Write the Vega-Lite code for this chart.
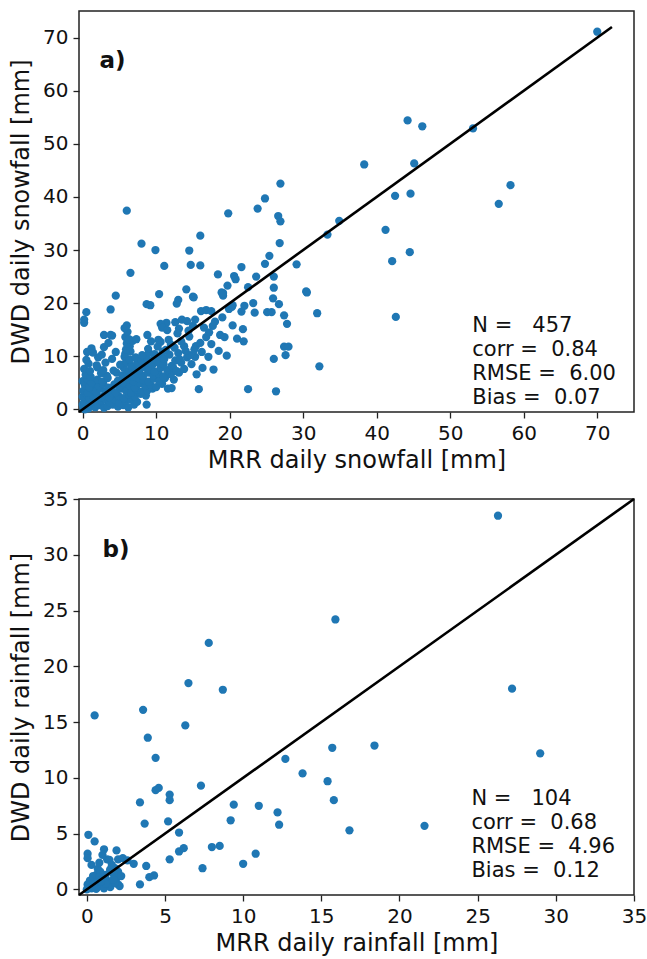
{
  "$schema": "https://vega.github.io/schema/vega-lite/v6.json",
  "padding": {"left": 8, "top": 10, "right": 8, "bottom": 4},
  "config": {
    "font": "DejaVu Sans",
    "view": {"stroke": "#222222", "strokeWidth": 1.5},
    "axis": {"grid": false, "domain": false, "tickColor": "#222222", "tickSize": 6, "tickWidth": 1.3, "labelFontSize": 20, "labelColor": "#111111", "titleFontSize": 24, "titleFontWeight": "normal", "titleColor": "#111111", "labelFont": "DejaVu Sans", "titleFont": "DejaVu Sans", "labelFlush": false, "labelOverlap": false, "labelPadding": 5},
    "axisX": {"titlePadding": 5},
    "axisY": {"titlePadding": 9},
    "concat": {"spacing": 15}
  },
  "datasets": {
    "snow": [
      {"mrr":70.0,"dwd":71.1},{"mrr":44.2,"dwd":54.4},{"mrr":46.2,"dwd":53.3},{"mrr":53.1,"dwd":52.9},{"mrr":38.3,"dwd":46.1},{"mrr":45.1,"dwd":46.3},{"mrr":58.2,"dwd":42.2},{"mrr":56.6,"dwd":38.7},{"mrr":42.5,"dwd":40.2},{"mrr":44.6,"dwd":40.6},
      {"mrr":26.9,"dwd":42.5},{"mrr":24.8,"dwd":39.7},{"mrr":19.8,"dwd":36.9},{"mrr":23.8,"dwd":37.8},{"mrr":26.6,"dwd":36.4},{"mrr":26.9,"dwd":35.4},{"mrr":34.9,"dwd":35.5},{"mrr":6.0,"dwd":37.4},{"mrr":41.2,"dwd":33.8},{"mrr":33.3,"dwd":32.9},
      {"mrr":16.0,"dwd":32.7},{"mrr":8.0,"dwd":31.2},{"mrr":26.8,"dwd":31.3},{"mrr":9.9,"dwd":30.0},{"mrr":14.5,"dwd":29.9},{"mrr":25.4,"dwd":28.9},{"mrr":44.5,"dwd":29.6},{"mrr":42.1,"dwd":27.9},{"mrr":11.1,"dwd":27.0},{"mrr":14.7,"dwd":27.2},
      {"mrr":16.0,"dwd":27.1},{"mrr":29.1,"dwd":27.3},{"mrr":24.8,"dwd":27.4},{"mrr":6.5,"dwd":25.7},{"mrr":18.4,"dwd":25.4},{"mrr":21.6,"dwd":26.8},{"mrr":20.6,"dwd":25.1},{"mrr":20.8,"dwd":24.5},{"mrr":23.6,"dwd":25.0},{"mrr":26.0,"dwd":25.0},
      {"mrr":22.5,"dwd":23.0},{"mrr":19.7,"dwd":23.3},{"mrr":26.0,"dwd":22.9},{"mrr":14.1,"dwd":22.6},{"mrr":30.4,"dwd":22.2},{"mrr":18.9,"dwd":22.0},{"mrr":19.1,"dwd":21.4},{"mrr":4.5,"dwd":21.4},{"mrr":10.4,"dwd":21.7},{"mrr":15.0,"dwd":21.2},
      {"mrr":25.9,"dwd":20.9},{"mrr":26.7,"dwd":19.8},{"mrr":13.0,"dwd":20.6},{"mrr":12.8,"dwd":19.9},{"mrr":8.7,"dwd":19.8},{"mrr":9.2,"dwd":19.6},{"mrr":20.4,"dwd":19.6},{"mrr":19.9,"dwd":18.9},{"mrr":3.8,"dwd":18.8},{"mrr":0.5,"dwd":18.3},
      {"mrr":0.2,"dwd":16.9},{"mrr":0.2,"dwd":16.3},{"mrr":21.6,"dwd":18.4},{"mrr":23.4,"dwd":18.2},{"mrr":25.1,"dwd":18.3},{"mrr":25.7,"dwd":18.3},{"mrr":31.9,"dwd":18.1},{"mrr":27.4,"dwd":17.7},{"mrr":42.6,"dwd":17.4},{"mrr":16.1,"dwd":18.5},
      {"mrr":16.8,"dwd":18.7},{"mrr":17.5,"dwd":18.5},{"mrr":27.8,"dwd":16.1},{"mrr":21.8,"dwd":15.1},{"mrr":21.0,"dwd":13.3},{"mrr":21.9,"dwd":12.8},{"mrr":12.6,"dwd":16.4},{"mrr":11.4,"dwd":16.3},{"mrr":10.6,"dwd":16.1},{"mrr":10.8,"dwd":15.4},
      {"mrr":13.5,"dwd":16.9},{"mrr":14.2,"dwd":16.6},{"mrr":15.0,"dwd":15.7},{"mrr":13.1,"dwd":15.2},{"mrr":17.7,"dwd":15.7},{"mrr":15.3,"dwd":16.9},{"mrr":16.5,"dwd":15.4},{"mrr":18.7,"dwd":14.0},{"mrr":14.5,"dwd":13.7},{"mrr":16.8,"dwd":13.6},
      {"mrr":15.4,"dwd":11.9},{"mrr":15.3,"dwd":9.9},{"mrr":17.1,"dwd":9.9},{"mrr":19.6,"dwd":10.1},{"mrr":18.5,"dwd":11.0},{"mrr":17.8,"dwd":7.5},{"mrr":16.3,"dwd":7.8},{"mrr":15.5,"dwd":6.6},{"mrr":15.8,"dwd":3.8},{"mrr":22.5,"dwd":3.8},
      {"mrr":26.3,"dwd":3.4},{"mrr":26.0,"dwd":9.5},{"mrr":27.6,"dwd":10.2},{"mrr":27.4,"dwd":11.8},{"mrr":28.0,"dwd":11.8},{"mrr":32.2,"dwd":8.1},{"mrr":15.1,"dwd":21.1},{"mrr":19.1,"dwd":21.9},{"mrr":20.3,"dwd":19.3},{"mrr":30.5,"dwd":22.0},
      {"mrr":0.1,"dwd":0.3},{"mrr":0.4,"dwd":0.7},{"mrr":0.8,"dwd":0.2},{"mrr":1.2,"dwd":0.9},{"mrr":1.7,"dwd":0.4},{"mrr":2.3,"dwd":0.8},{"mrr":2.9,"dwd":0.3},{"mrr":3.4,"dwd":0.6},{"mrr":4.1,"dwd":0.9},{"mrr":4.8,"dwd":0.5},
      {"mrr":5.5,"dwd":0.8},{"mrr":6.2,"dwd":0.4},{"mrr":7.0,"dwd":0.9},{"mrr":8.7,"dwd":0.9},{"mrr":0.0,"dwd":0.9},{"mrr":0.3,"dwd":0.0},
      {"mrr":0.2,"dwd":1.4},{"mrr":0.6,"dwd":1.9},{"mrr":1.0,"dwd":1.2},{"mrr":1.5,"dwd":1.7},{"mrr":2.0,"dwd":1.1},{"mrr":2.6,"dwd":1.6},{"mrr":3.1,"dwd":1.9},{"mrr":3.7,"dwd":1.3},{"mrr":4.4,"dwd":1.8},{"mrr":5.0,"dwd":1.2},{"mrr":5.8,"dwd":1.6},{"mrr":6.5,"dwd":1.9},{"mrr":7.4,"dwd":1.4},
      {"mrr":0.0,"dwd":2.4},{"mrr":0.5,"dwd":2.8},{"mrr":0.9,"dwd":2.1},{"mrr":1.4,"dwd":2.6},{"mrr":1.9,"dwd":2.9},{"mrr":2.5,"dwd":2.2},{"mrr":3.0,"dwd":2.7},{"mrr":3.6,"dwd":2.3},{"mrr":4.2,"dwd":2.9},{"mrr":4.9,"dwd":2.5},{"mrr":5.6,"dwd":2.1},{"mrr":6.3,"dwd":2.8},{"mrr":7.1,"dwd":2.4},{"mrr":7.9,"dwd":2.9},{"mrr":8.6,"dwd":2.6},
      {"mrr":0.1,"dwd":3.5},{"mrr":0.7,"dwd":3.1},{"mrr":1.3,"dwd":3.8},{"mrr":1.8,"dwd":3.3},{"mrr":2.4,"dwd":3.9},{"mrr":3.2,"dwd":3.4},{"mrr":3.9,"dwd":3.7},{"mrr":4.5,"dwd":3.2},{"mrr":5.2,"dwd":3.9},{"mrr":5.9,"dwd":3.5},{"mrr":6.6,"dwd":3.1},{"mrr":7.3,"dwd":3.8},{"mrr":8.0,"dwd":3.3},{"mrr":8.8,"dwd":3.6},{"mrr":9.5,"dwd":3.9},{"mrr":11.6,"dwd":3.9},{"mrr":12.1,"dwd":4.0},
      {"mrr":0.3,"dwd":4.6},{"mrr":0.9,"dwd":4.2},{"mrr":1.6,"dwd":4.9},{"mrr":2.2,"dwd":4.4},{"mrr":2.8,"dwd":4.8},{"mrr":3.5,"dwd":4.1},{"mrr":4.3,"dwd":4.7},{"mrr":5.0,"dwd":4.3},{"mrr":5.7,"dwd":4.8},{"mrr":6.4,"dwd":4.5},{"mrr":7.1,"dwd":4.1},{"mrr":7.8,"dwd":4.9},{"mrr":8.5,"dwd":4.4},{"mrr":9.2,"dwd":4.7},{"mrr":10.0,"dwd":4.2},{"mrr":10.8,"dwd":4.8},
      {"mrr":0.0,"dwd":5.3},{"mrr":0.6,"dwd":5.8},{"mrr":1.2,"dwd":5.1},{"mrr":2.0,"dwd":5.6},{"mrr":2.7,"dwd":5.2},{"mrr":3.4,"dwd":5.9},{"mrr":4.8,"dwd":5.4},{"mrr":5.5,"dwd":5.1},{"mrr":6.2,"dwd":5.7},{"mrr":6.9,"dwd":5.3},{"mrr":7.6,"dwd":5.9},{"mrr":8.3,"dwd":5.5},{"mrr":9.0,"dwd":5.2},{"mrr":9.7,"dwd":5.8},{"mrr":10.4,"dwd":5.4},{"mrr":11.2,"dwd":5.9},{"mrr":12.4,"dwd":5.6},
      {"mrr":0.4,"dwd":6.5},{"mrr":1.1,"dwd":6.1},{"mrr":2.5,"dwd":6.8},{"mrr":3.3,"dwd":6.3},{"mrr":4.6,"dwd":6.9},{"mrr":5.4,"dwd":6.4},{"mrr":6.1,"dwd":6.8},{"mrr":6.8,"dwd":6.2},{"mrr":7.5,"dwd":6.7},{"mrr":8.2,"dwd":6.3},{"mrr":8.9,"dwd":6.9},{"mrr":9.6,"dwd":6.4},{"mrr":10.3,"dwd":6.8},{"mrr":11.0,"dwd":6.2},{"mrr":12.0,"dwd":6.6},{"mrr":13.1,"dwd":6.9},
      {"mrr":0.2,"dwd":7.6},{"mrr":1.0,"dwd":7.2},{"mrr":2.0,"dwd":7.9},{"mrr":2.8,"dwd":7.4},{"mrr":4.2,"dwd":7.3},{"mrr":5.6,"dwd":7.8},{"mrr":6.3,"dwd":7.1},{"mrr":7.0,"dwd":7.7},{"mrr":7.7,"dwd":7.3},{"mrr":8.4,"dwd":7.9},{"mrr":9.1,"dwd":7.5},{"mrr":9.8,"dwd":7.1},{"mrr":10.6,"dwd":7.8},{"mrr":11.5,"dwd":7.4},{"mrr":12.3,"dwd":7.9},{"mrr":13.8,"dwd":7.6},
      {"mrr":0.8,"dwd":8.6},{"mrr":1.9,"dwd":8.3},{"mrr":3.1,"dwd":8.8},{"mrr":5.1,"dwd":8.4},{"mrr":5.9,"dwd":8.9},{"mrr":6.6,"dwd":8.2},{"mrr":7.4,"dwd":8.7},{"mrr":8.1,"dwd":8.3},{"mrr":8.8,"dwd":8.8},{"mrr":9.5,"dwd":8.4},{"mrr":10.2,"dwd":8.9},{"mrr":11.0,"dwd":8.5},{"mrr":12.1,"dwd":8.2},{"mrr":13.4,"dwd":8.8},
      {"mrr":0.5,"dwd":9.3},{"mrr":2.1,"dwd":9.8},{"mrr":4.0,"dwd":9.5},{"mrr":5.7,"dwd":9.9},{"mrr":6.4,"dwd":9.4},{"mrr":7.2,"dwd":9.8},{"mrr":8.0,"dwd":9.2},{"mrr":8.7,"dwd":9.7},{"mrr":9.5,"dwd":9.3},{"mrr":10.3,"dwd":9.9},{"mrr":11.1,"dwd":9.5},{"mrr":12.6,"dwd":9.2},{"mrr":14.2,"dwd":9.8},
      {"mrr":0.6,"dwd":10.8},{"mrr":1.4,"dwd":10.7},{"mrr":2.6,"dwd":10.3},{"mrr":5.8,"dwd":10.5},{"mrr":6.5,"dwd":10.9},{"mrr":8.1,"dwd":10.2},{"mrr":9.0,"dwd":10.7},{"mrr":9.8,"dwd":10.4},{"mrr":10.9,"dwd":10.8},{"mrr":11.8,"dwd":10.3},{"mrr":13.0,"dwd":10.6},{"mrr":14.6,"dwd":10.2},
      {"mrr":1.2,"dwd":11.5},{"mrr":2.9,"dwd":11.7},{"mrr":5.9,"dwd":11.3},{"mrr":6.4,"dwd":11.9},{"mrr":8.9,"dwd":11.4},{"mrr":10.2,"dwd":11.8},{"mrr":11.3,"dwd":11.2},{"mrr":12.5,"dwd":11.6},{"mrr":13.8,"dwd":11.9},{"mrr":15.2,"dwd":11.3},
      {"mrr":6.0,"dwd":12.4},{"mrr":6.8,"dwd":12.9},{"mrr":10.6,"dwd":12.7},{"mrr":12.0,"dwd":12.2},{"mrr":13.4,"dwd":12.8},
      {"mrr":2.9,"dwd":14.0},{"mrr":4.0,"dwd":13.9},{"mrr":5.8,"dwd":13.6},{"mrr":6.3,"dwd":13.2},{"mrr":8.8,"dwd":14.0},{"mrr":10.3,"dwd":13.1},{"mrr":11.7,"dwd":13.1},{"mrr":3.8,"dwd":14.0},
      {"mrr":6.1,"dwd":14.6},{"mrr":12.9,"dwd":14.3},{"mrr":14.4,"dwd":14.8},{"mrr":5.7,"dwd":15.3},{"mrr":6.0,"dwd":15.8},{"mrr":11.5,"dwd":14.9},
      {"mrr":16.0,"dwd":12.5},{"mrr":17.2,"dwd":14.5},{"mrr":18.0,"dwd":16.5},{"mrr":19.0,"dwd":17.3},{"mrr":14.0,"dwd":11.0},{"mrr":13.2,"dwd":9.4},{"mrr":12.8,"dwd":7.2},{"mrr":14.8,"dwd":8.5},{"mrr":16.2,"dwd":10.8},{"mrr":17.5,"dwd":12.3},
      {"mrr":19.3,"dwd":13.6},{"mrr":20.4,"dwd":15.8},{"mrr":22.0,"dwd":19.5},{"mrr":23.2,"dwd":20.0},{"mrr":9.3,"dwd":12.8},{"mrr":7.3,"dwd":13.2},{"mrr":4.5,"dwd":10.8},{"mrr":3.5,"dwd":12.5}
    ],
    "rain": [
      {"mrr":26.3,"dwd":33.5},{"mrr":15.9,"dwd":24.2},{"mrr":7.8,"dwd":22.1},{"mrr":6.5,"dwd":18.5},{"mrr":8.7,"dwd":17.9},{"mrr":27.2,"dwd":18.0},{"mrr":0.5,"dwd":15.6},{"mrr":3.6,"dwd":16.1},{"mrr":6.3,"dwd":14.7},{"mrr":3.9,"dwd":13.6},
      {"mrr":15.7,"dwd":12.7},{"mrr":18.4,"dwd":12.9},{"mrr":29.0,"dwd":12.2},{"mrr":4.4,"dwd":11.8},{"mrr":12.7,"dwd":11.7},{"mrr":13.8,"dwd":10.4},{"mrr":15.4,"dwd":9.7},{"mrr":7.3,"dwd":9.3},{"mrr":4.6,"dwd":9.1},{"mrr":4.4,"dwd":8.9},
      {"mrr":5.3,"dwd":8.5},{"mrr":5.3,"dwd":8.0},{"mrr":3.4,"dwd":7.8},{"mrr":15.8,"dwd":8.0},{"mrr":9.4,"dwd":7.6},{"mrr":11.0,"dwd":7.5},{"mrr":12.2,"dwd":6.9},{"mrr":5.2,"dwd":6.1},{"mrr":9.2,"dwd":6.2},{"mrr":3.7,"dwd":5.9},
      {"mrr":12.3,"dwd":5.8},{"mrr":21.6,"dwd":5.7},{"mrr":16.8,"dwd":5.3},{"mrr":5.9,"dwd":5.1},{"mrr":0.1,"dwd":4.9},{"mrr":0.5,"dwd":4.3},{"mrr":1.1,"dwd":3.6},{"mrr":1.9,"dwd":3.5},{"mrr":8.0,"dwd":3.8},{"mrr":8.5,"dwd":3.9},
      {"mrr":5.9,"dwd":3.4},{"mrr":6.2,"dwd":3.7},{"mrr":10.8,"dwd":3.2},{"mrr":0.05,"dwd":3.2},{"mrr":0.05,"dwd":2.8},{"mrr":1.3,"dwd":2.7},{"mrr":2.0,"dwd":2.7},{"mrr":2.3,"dwd":2.8},{"mrr":5.3,"dwd":2.7},{"mrr":3.0,"dwd":2.3},
      {"mrr":10.0,"dwd":2.3},{"mrr":3.8,"dwd":2.1},{"mrr":7.4,"dwd":1.9},{"mrr":0.7,"dwd":1.85},{"mrr":1.5,"dwd":1.8},{"mrr":1.8,"dwd":1.9},{"mrr":0.6,"dwd":1.3},{"mrr":4.3,"dwd":1.25},{"mrr":4.0,"dwd":1.1},{"mrr":3.4,"dwd":0.45},
      {"mrr":0.05,"dwd":0.45},{"mrr":2.0,"dwd":0.45},{"mrr":2.6,"dwd":2.6},{"mrr":1.45,"dwd":2.65},{"mrr":0.86,"dwd":1.6},{"mrr":1.5,"dwd":1.7},{"mrr":2.0,"dwd":1.6},{"mrr":1.7,"dwd":1.4},{"mrr":0.4,"dwd":1.2},{"mrr":0.8,"dwd":1.1},
      {"mrr":1.2,"dwd":1.3},{"mrr":0.1,"dwd":0.3},{"mrr":0.5,"dwd":0.6},{"mrr":0.9,"dwd":0.4},{"mrr":1.3,"dwd":0.8},{"mrr":1.6,"dwd":0.5},{"mrr":1.9,"dwd":1.0},{"mrr":2.1,"dwd":0.3},{"mrr":0.3,"dwd":0.1},{"mrr":0.7,"dwd":0.2},
      {"mrr":1.1,"dwd":0.1},{"mrr":1.5,"dwd":0.2},{"mrr":0.2,"dwd":0.8},{"mrr":1.0,"dwd":0.9},{"mrr":1.8,"dwd":0.6},{"mrr":0.0,"dwd":0.0},{"mrr":0.4,"dwd":0.4},{"mrr":1.2,"dwd":0.5},{"mrr":1.7,"dwd":0.9},{"mrr":0.6,"dwd":0.05},
      {"mrr":2.2,"dwd":1.2},{"mrr":0.9,"dwd":0.7},{"mrr":0.3,"dwd":2.2},{"mrr":0.8,"dwd":2.4},{"mrr":1.0,"dwd":3.1},{"mrr":1.6,"dwd":2.2}
    ],
    "line_a": [{"mrr": -0.5, "dwd": -0.5}, {"mrr": 72, "dwd": 72}],
    "line_b": [{"mrr": -0.5, "dwd": -0.5}, {"mrr": 35, "dwd": 35}],
    "text_a": [{"label": "a)", "stats": ["N =\u00a0\u00a0\u00a0457", "corr =\u00a0\u00a00.84", "RMSE =\u00a0\u00a06.00", "Bias =\u00a0\u00a00.07"]}],
    "text_b": [{"label": "b)", "stats": ["N =\u00a0\u00a0\u00a0104", "corr =\u00a0\u00a00.68", "RMSE =\u00a0\u00a04.96", "Bias =\u00a0\u00a00.12"]}]
  },
  "vconcat": [
    {
      "width": 555,
      "height": 401,
      "encoding": {
        "x": {"type": "quantitative", "scale": {"domain": [-0.5, 75], "nice": false, "zero": false}, "axis": {"values": [0, 10, 20, 30, 40, 50, 60, 70], "title": "MRR daily snowfall [mm]"}},
        "y": {"type": "quantitative", "scale": {"domain": [-0.5, 75], "nice": false, "zero": false}, "axis": {"values": [0, 10, 20, 30, 40, 50, 60, 70], "title": "DWD daily snowfall [mm]"}}
      },
      "layer": [
        {"data": {"name": "snow"}, "mark": {"type": "circle", "size": 68, "color": "#1f77b4", "opacity": 1}, "encoding": {"x": {"field": "mrr", "type": "quantitative"}, "y": {"field": "dwd", "type": "quantitative"}}},
        {"data": {"name": "line_a"}, "mark": {"type": "line", "color": "#000000", "strokeWidth": 2.6}, "encoding": {"x": {"field": "mrr", "type": "quantitative"}, "y": {"field": "dwd", "type": "quantitative"}}},
        {"data": {"name": "text_a"}, "mark": {"type": "text", "align": "left", "baseline": "alphabetic", "fontSize": 23, "fontWeight": "bold", "color": "#111111"}, "encoding": {"x": {"datum": 2.3}, "y": {"datum": 64.2}, "text": {"field": "label"}}},
        {"data": {"name": "text_a"}, "mark": {"type": "text", "align": "left", "baseline": "alphabetic", "fontSize": 21, "lineHeight": 24, "color": "#111111"}, "encoding": {"x": {"datum": 53.0}, "y": {"datum": 14.5}, "text": {"field": "stats"}}}
      ]
    },
    {
      "width": 555,
      "height": 396,
      "encoding": {
        "x": {"type": "quantitative", "scale": {"domain": [-0.5, 35], "nice": false, "zero": false}, "axis": {"values": [0, 5, 10, 15, 20, 25, 30, 35], "title": "MRR daily rainfall [mm]"}},
        "y": {"type": "quantitative", "scale": {"domain": [-0.5, 35], "nice": false, "zero": false}, "axis": {"values": [0, 5, 10, 15, 20, 25, 30, 35], "title": "DWD daily rainfall [mm]"}}
      },
      "layer": [
        {"data": {"name": "rain"}, "mark": {"type": "circle", "size": 68, "color": "#1f77b4", "opacity": 1}, "encoding": {"x": {"field": "mrr", "type": "quantitative"}, "y": {"field": "dwd", "type": "quantitative"}}},
        {"data": {"name": "line_b"}, "mark": {"type": "line", "color": "#000000", "strokeWidth": 2.6}, "encoding": {"x": {"field": "mrr", "type": "quantitative"}, "y": {"field": "dwd", "type": "quantitative"}}},
        {"data": {"name": "text_b"}, "mark": {"type": "text", "align": "left", "baseline": "alphabetic", "fontSize": 23, "fontWeight": "bold", "color": "#111111"}, "encoding": {"x": {"datum": 1.0}, "y": {"datum": 29.8}, "text": {"field": "label"}}},
        {"data": {"name": "text_b"}, "mark": {"type": "text", "align": "left", "baseline": "alphabetic", "fontSize": 21, "lineHeight": 24, "color": "#111111"}, "encoding": {"x": {"datum": 24.6}, "y": {"datum": 7.6}, "text": {"field": "stats"}}}
      ]
    }
  ]
}
